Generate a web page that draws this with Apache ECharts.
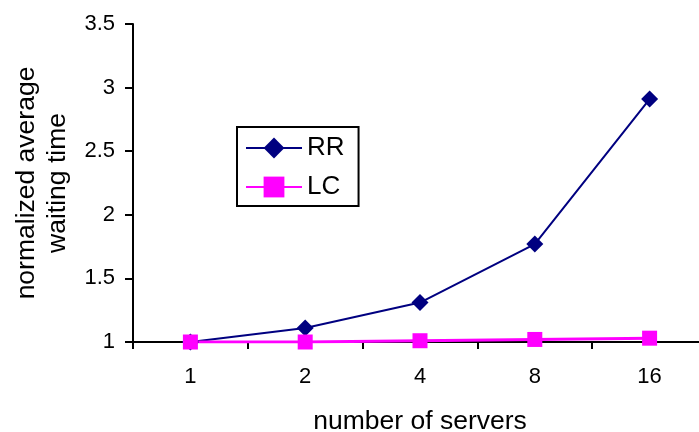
<!DOCTYPE html>
<html>
<head>
<meta charset="utf-8">
<script src="https://cdn.jsdelivr.net/npm/echarts@6/dist/echarts.min.js"></script>
<style>
html,body{margin:0;padding:0;background:#fff;}
#chart{width:699px;height:432px;}
</style>
</head>
<body>
<div id="chart"></div>
<script>
var categories = ['1', '2', '4', '8', '16'];
var rrValues = [1.0, 1.11, 1.31, 1.77, 2.91];
var lcValues = [1.0, 1.0, 1.01, 1.02, 1.03];
var yTicks = [1, 1.5, 2, 2.5, 3, 3.5];

var FONT = '"Liberation Sans", Arial, sans-serif';
var chart = echarts.init(document.getElementById('chart'));
chart.setOption({
  animation: false,
  backgroundColor: '#fff',
  textStyle: { fontFamily: FONT, color: '#000' },
  grid: { left: 133, top: 24, width: 574, height: 318, outerBoundsMode: 'none', containLabel: false },
  legend: {
    left: 237, top: 127,
    orient: 'vertical',
    data: ['RR', 'LC'],
    itemWidth: 56, itemHeight: 26, itemGap: 13,
    padding: [8, 14, 6, 8],
    borderColor: '#000', borderWidth: 2, borderRadius: 0,
    textStyle: { fontFamily: FONT, fontSize: 26, color: '#000' }
  },
  xAxis: {
    type: 'category',
    data: categories,
    boundaryGap: true,
    name: 'number of servers',
    nameLocation: 'middle',
    nameGap: 66,
    nameTextStyle: { fontFamily: FONT, fontSize: 26.5, color: '#000' },
    axisLine: { lineStyle: { color: '#000', width: 2 } },
    axisTick: { show: true, alignWithLabel: false, length: 7, lineStyle: { color: '#000', width: 2 } },
    axisLabel: { fontFamily: FONT, fontSize: 22, color: '#000', margin: 24 },
    splitLine: { show: false }
  },
  yAxis: {
    type: 'value',
    min: yTicks[0], max: yTicks[yTicks.length - 1], interval: 0.5,
    name: 'normalized average\nwaiting time',
    nameLocation: 'middle',
    nameRotate: 90,
    nameGap: 60,
    nameTextStyle: { fontFamily: FONT, fontSize: 26.5, color: '#000', lineHeight: 31 },
    axisLine: { show: true, lineStyle: { color: '#000', width: 2 } },
    axisTick: { show: true, length: 8, lineStyle: { color: '#000', width: 2 } },
    axisLabel: { fontFamily: FONT, fontSize: 22, color: '#000', margin: 18 },
    splitLine: { show: false }
  },
  series: [
    {
      name: 'RR', type: 'line', data: rrValues,
      symbol: 'diamond', symbolSize: 17,
      itemStyle: { color: '#000080' },
      lineStyle: { color: '#000080', width: 2 }
    },
    {
      name: 'LC', type: 'line', data: lcValues,
      symbol: 'rect', symbolSize: 15,
      itemStyle: { color: '#ff00ff' },
      lineStyle: { color: '#ff00ff', width: 3 }
    }
  ]
});
</script>
</body>
</html>
